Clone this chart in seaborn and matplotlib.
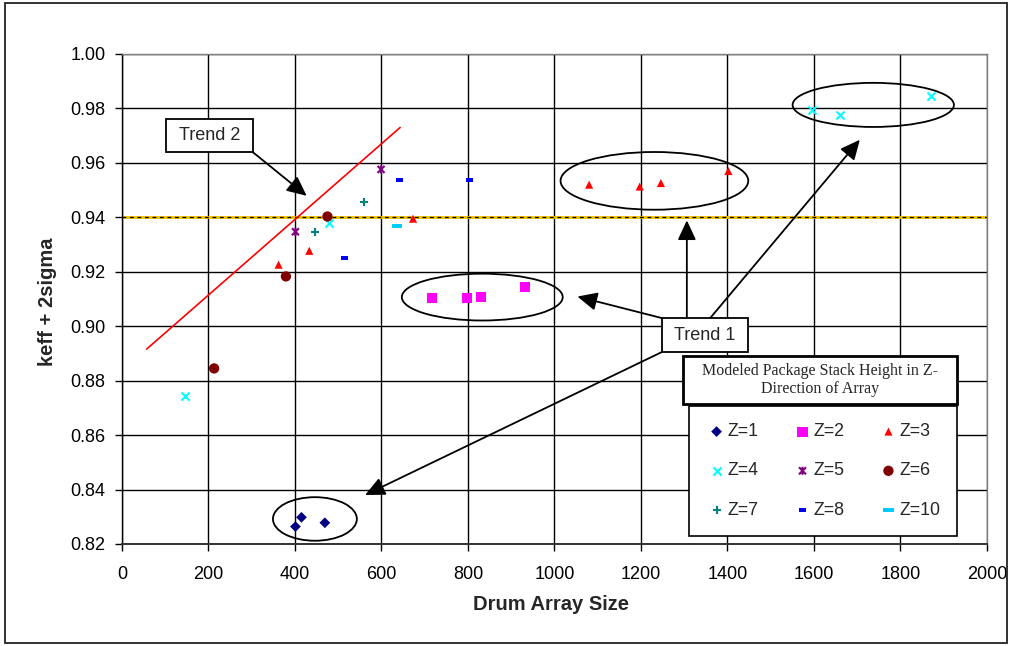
import numpy as np
import pandas as pd
import matplotlib
matplotlib.use("Agg")
import matplotlib.pyplot as plt
from matplotlib.path import Path
from matplotlib.patches import Ellipse, Rectangle
import seaborn as sns

# ---- data: drum array size vs keff + 2 sigma, grouped by stack height Z ----
z1_size = [401, 415, 469]
z1_keff = [0.8264, 0.8298, 0.8278]
z2_size = [716, 798, 829, 931]
z2_keff = [0.9103, 0.9103, 0.9109, 0.9144]
z3_size = [362, 433, 673, 1080, 1197, 1246, 1402]
z3_keff = [0.9226, 0.9277, 0.9395, 0.9520, 0.9513, 0.9526, 0.9570]
z4_size = [146, 479, 1596, 1660, 1870]
z4_keff = [0.8744, 0.9381, 0.9796, 0.9775, 0.9847]
z5_size = [401, 599]
z5_keff = [0.9347, 0.9576]
z6_size = [213, 379, 475]
z6_keff = [0.8845, 0.9183, 0.9403]
z7_size = [447, 560]
z7_keff = [0.9346, 0.9458]
z8_size = [514, 641, 804]
z8_keff = [0.9250, 0.9537, 0.9537]
z10_size = [636]
z10_keff = [0.9368]

group_labels = ["Z=1", "Z=2", "Z=3", "Z=4", "Z=5", "Z=6", "Z=7", "Z=8", "Z=10"]
group_sizes = [z1_size, z2_size, z3_size, z4_size, z5_size, z6_size, z7_size, z8_size, z10_size]
group_keffs = [z1_keff, z2_keff, z3_keff, z4_keff, z5_keff, z6_keff, z7_keff, z8_keff, z10_keff]

# upper subcritical limit and "Trend 2" line
limit_keff = 0.94
trend2_size = [57, 643]
trend2_keff = [0.8916, 0.9730]

x_ticks = [0, 200, 400, 600, 800, 1000, 1200, 1400, 1600, 1800, 2000]
y_ticks = [0.82, 0.84, 0.86, 0.88, 0.90, 0.92, 0.94, 0.96, 0.98, 1.00]

df = pd.concat(
    [pd.DataFrame({"size": s, "keff": k, "Z": lab})
     for lab, s, k in zip(group_labels, group_sizes, group_keffs)],
    ignore_index=True,
)

# ---- marker styles ----
asterisk = Path([(-1, -1), (1, 1), (-1, 1), (1, -1), (0, -1.15), (0, 1.15)],
                [Path.MOVETO, Path.LINETO, Path.MOVETO, Path.LINETO, Path.MOVETO, Path.LINETO])
short_dash = Path([(-1, -0.5), (1, -0.5), (1, 0.5), (-1, 0.5), (-1, -0.5)],
                  [Path.MOVETO, Path.LINETO, Path.LINETO, Path.LINETO, Path.CLOSEPOLY])
long_dash = Path([(-1, -0.3), (1, -0.3), (1, 0.3), (-1, 0.3), (-1, -0.3)],
                 [Path.MOVETO, Path.LINETO, Path.LINETO, Path.LINETO, Path.CLOSEPOLY])

styles = {
    "Z=1": dict(marker="D", color="#000080", s=30, kind="filled"),
    "Z=2": dict(marker="s", color="#FF00FF", s=52, kind="filled"),
    "Z=3": dict(marker="^", color="#FF0000", s=34, kind="filled"),
    "Z=4": dict(marker="x", color="#00FFFF", s=34, kind="line"),
    "Z=5": dict(marker=asterisk, color="#800080", s=34, kind="path"),
    "Z=6": dict(marker="o", color="#800000", s=55, kind="filled"),
    "Z=7": dict(marker="+", color="#008080", s=40, kind="line"),
    "Z=8": dict(marker=short_dash, color="#0000FF", s=24, kind="filled"),
    "Z=10": dict(marker=long_dash, color="#00CCFF", s=55, kind="filled"),
}

sns.set_theme(style="white")
plt.rcParams["font.family"] = ["Liberation Sans", "DejaVu Sans"]

fig = plt.figure(figsize=(10.12, 6.46), dpi=100)
ax = fig.add_axes([122 / 1012, 1 - 544 / 646, 865 / 1012, 490 / 646])

# figure border
fig.patches.append(Rectangle((5 / 1012, 3 / 646), 1002 / 1012, 640 / 646,
                             transform=fig.transFigure, fill=False,
                             edgecolor="#222222", lw=1.3, zorder=0))

ax.set_xlim(0, 2000)
ax.set_ylim(0.82, 1.00)
ax.set_xticks(x_ticks)
ax.set_yticks(y_ticks)
ax.set_yticklabels([f"{v:.2f}" for v in y_ticks])
ax.grid(True, color="black", lw=1.0)
ax.set_axisbelow(True)
for side, sp in ax.spines.items():
    sp.set_color("#808080")
    sp.set_linewidth(1.0)
ax.spines["left"].set_color("black")
ax.spines["bottom"].set_color("#333333")
ax.spines["bottom"].set_linewidth(1.4)
ax.tick_params(axis="both", which="both", direction="out", colors="black",
               labelsize=13, length=4.8, width=1)
ax.tick_params(axis="x", pad=11)
ax.tick_params(axis="y", pad=7)
ax.tick_params(left=True, bottom=True)

# limit line at 0.94 (gold with black dashes)
ax.axhline(limit_keff, color="#F2C200", lw=2.0, zorder=2)
ax.axhline(limit_keff, color="black", lw=0.9, dashes=(3, 3), zorder=2.1)

# Trend 2 line
ax.plot(trend2_size, trend2_keff, color="#FF0000", lw=1.2, zorder=3)

# scatter groups
for lab in group_labels:
    st = styles[lab]
    sub = df[df["Z"] == lab]
    kws = dict(marker=st["marker"], s=st["s"], label=lab, zorder=4)
    if st["kind"] == "filled":
        kws.update(color=st["color"], edgecolor="none", linewidth=0)
    elif st["kind"] == "path":
        kws.update(facecolor="none", edgecolor=st["color"], linewidth=1.5)
    else:
        kws.update(color=st["color"], linewidth=1.5)
    sns.scatterplot(data=sub, x="size", y="keff", ax=ax, legend=False, **kws)

ax.set_xlabel("Drum Array Size", fontsize=14.5, fontweight="bold")
ax.set_ylabel("keff + 2sigma", fontsize=14.5, fontweight="bold")
ax.xaxis.set_label_coords(0.4965, -0.105)
ax.yaxis.set_label_coords(-0.075, 0.494)

# grouping ellipses
for cx, cy, w, h in [(446, 0.8292, 194, 0.0160),
                     (833, 0.9107, 372, 0.0172),
                     (1231, 0.9534, 434, 0.0212),
                     (1737, 0.9813, 373, 0.0162)]:
    ax.add_patch(Ellipse((cx, cy), w, h, fill=False, edgecolor="black",
                         lw=1.3, zorder=5))

arrow_kw = dict(arrowstyle="-|>,head_length=0.6,head_width=0.28",
                mutation_scale=20, color="black", lw=1.3,
                shrinkA=0, shrinkB=0)

# Trend 2 label and arrow
ax.annotate("", xy=(427, 0.9479), xytext=(302, 0.9640),
            arrowprops=arrow_kw, zorder=6)
ax.add_patch(Rectangle((102, 0.9640), 202, 0.0121, facecolor="white",
                       edgecolor="black", lw=1.3, zorder=7))
ax.text(203, 0.97005, "Trend 2", ha="center", va="center", fontsize=13, zorder=8)

# Trend 1 label and arrows
for tip, tail in [((1053, 0.9109), (1248, 0.9030)),
                  ((1306, 0.9389), (1306, 0.9030)),
                  ((1706, 0.9685), (1360, 0.9030)),
                  ((562, 0.8380), (1248, 0.8905))]:
    ax.annotate("", xy=tip, xytext=tail, arrowprops=arrow_kw, zorder=6)
ax.add_patch(Rectangle((1248, 0.8905), 199, 0.0125, facecolor="white",
                       edgecolor="black", lw=1.3, zorder=7))
ax.text(1347, 0.89675, "Trend 1", ha="center", va="center", fontsize=13, zorder=8)

# legend title box
fig.patches.append(Rectangle((683 / 1012, 1 - 404 / 646), 274 / 1012, 48 / 646,
                             transform=fig.transFigure, facecolor="white",
                             edgecolor="black", lw=2.0, zorder=10))
fig.text(820 / 1012, 1 - 380 / 646,
         "Modeled Package Stack Height in Z-\nDirection of Array",
         ha="center", va="center", fontsize=11.5, linespacing=1.15,
         family=["Liberation Serif", "DejaVu Serif"], zorder=11)

# legend, filled row by row
handles, labels = ax.get_legend_handles_labels()
order = [0, 3, 6, 1, 4, 7, 2, 5, 8]
leg = fig.legend([handles[i] for i in order], [labels[i] for i in order],
                 ncol=3, loc="upper left",
                 bbox_to_anchor=(689 / 1012, 1 - 407 / 646, 268 / 1012, 0.001),
                 mode="expand", borderaxespad=0, fontsize=12.8,
                 frameon=True, fancybox=False, edgecolor="black",
                 framealpha=1, labelspacing=1.25, borderpad=0.95,
                 handletextpad=0.0, handlelength=1.2, columnspacing=0.5)
leg.get_frame().set_linewidth(1.2)
leg.set_zorder(12)

fig.savefig("out.png", dpi=100)
